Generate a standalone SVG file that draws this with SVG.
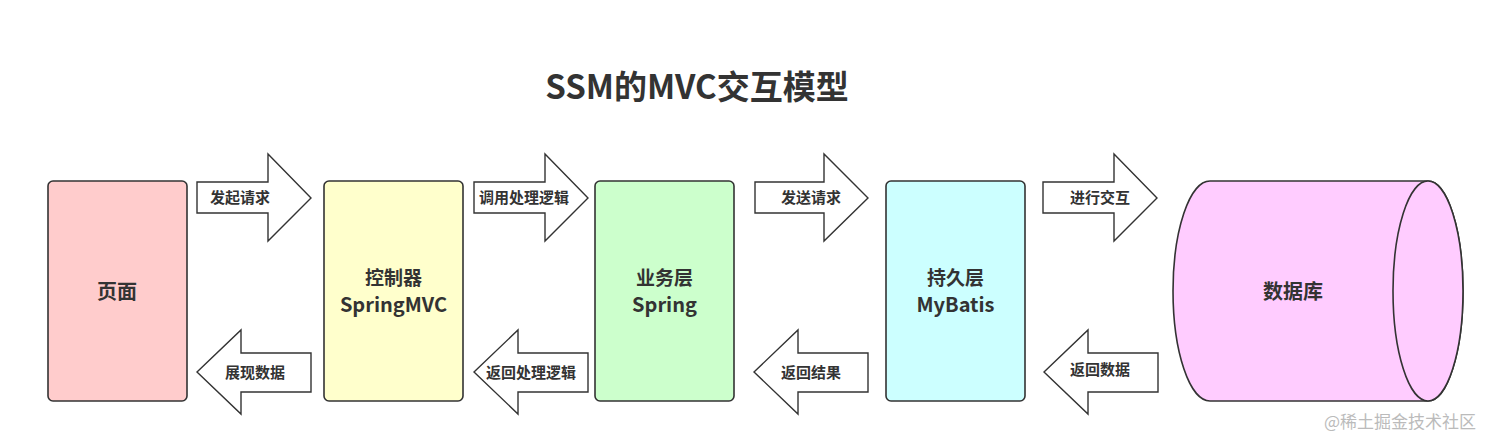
<svg xmlns="http://www.w3.org/2000/svg" width="1495" height="447" viewBox="0 0 1495 447">
<style>
.box{stroke:#333;stroke-width:1.6}
.arr{fill:#fff;stroke:#333;stroke-width:1.4;stroke-linejoin:miter}
.t{font-family:"Noto Sans CJK SC","Noto Sans",sans-serif;font-weight:bold;fill:#333;text-anchor:middle}
.lbl{font-size:15px}
.node{font-size:20px}
.n2{font-size:19px}
</style>
<rect width="1495" height="447" fill="#fff"/>
<text class="t" x="697" y="99" font-size="33">SSM的MVC交互模型</text>
<g id="page">
<rect class="box" x="48" y="181" width="139" height="220" rx="5" fill="#ffcccc"/>
<text class="t node" x="117" y="299">页面</text>
</g>
<g id="controller">
<rect class="box" x="324" y="181" width="139" height="220" rx="5" fill="#ffffcc"/>
<text class="t n2" x="393.5" y="285">控制器</text>
<text class="t node" x="393.5" y="312">SpringMVC</text>
</g>
<g id="service">
<rect class="box" x="595" y="181" width="139" height="220" rx="5" fill="#ccffcc"/>
<text class="t n2" x="664.5" y="285">业务层</text>
<text class="t node" x="664.5" y="312">Spring</text>
</g>
<g id="persistence">
<rect class="box" x="886" y="181" width="139" height="220" rx="5" fill="#ccffff"/>
<text class="t n2" x="955.5" y="285">持久层</text>
<text class="t node" x="955.5" y="312">MyBatis</text>
</g>
<g id="database">
<path class="box" fill="#ffccff" d="M1210,181 L1428,181 A35,110 0 0 1 1428,401 L1210,401 A37,110 0 0 1 1210,181 Z"/>
<ellipse class="box" fill="#ffccff" cx="1428" cy="291" rx="35" ry="110"/>
<text class="t node" x="1293" y="299">数据库</text>
</g>
<g id="connectors">
<g id="a1"><path class="arr" d="M197,182 L268,182 L268,154 L311,198 L268,241 L268,213 L197,213 Z"/><text class="t lbl" x="240" y="203">发起请求</text></g>
<g id="a2"><path class="arr" d="M474,182 L545,182 L545,154 L588,198 L545,241 L545,213 L474,213 Z"/><text class="t lbl" x="524" y="203">调用处理逻辑</text></g>
<g id="a3"><path class="arr" d="M755,182 L824,182 L824,154 L868,198 L824,241 L824,213 L755,213 Z"/><text class="t lbl" x="811" y="203">发送请求</text></g>
<g id="a4"><path class="arr" d="M1043,182 L1114,182 L1114,154 L1157,198 L1114,241 L1114,213 L1043,213 Z"/><text class="t lbl" x="1100" y="203">进行交互</text></g>
<g id="b1"><path class="arr" d="M311,353 L241,353 L241,330 L197,372 L241,414 L241,392 L311,392 Z"/><text class="t lbl" x="255" y="378">展现数据</text></g>
<g id="b2"><path class="arr" d="M588,353 L518,353 L518,330 L474,372 L518,414 L518,392 L588,392 Z"/><text class="t lbl" x="531" y="378">返回处理逻辑</text></g>
<g id="b3"><path class="arr" d="M868,353 L798,353 L798,330 L754,372 L798,414 L798,392 L868,392 Z"/><text class="t lbl" x="811" y="378">返回结果</text></g>
<g id="b4"><path class="arr" d="M1158,353 L1088,353 L1088,330 L1044,372 L1088,414 L1088,392 L1158,392 Z"/><text class="t lbl" x="1100" y="375">返回数据</text></g>
</g>
<text x="1400" y="428" font-family="Noto Sans CJK SC,sans-serif" font-size="17" fill="#bbb" text-anchor="middle">@稀土掘金技术社区</text>
</svg>
